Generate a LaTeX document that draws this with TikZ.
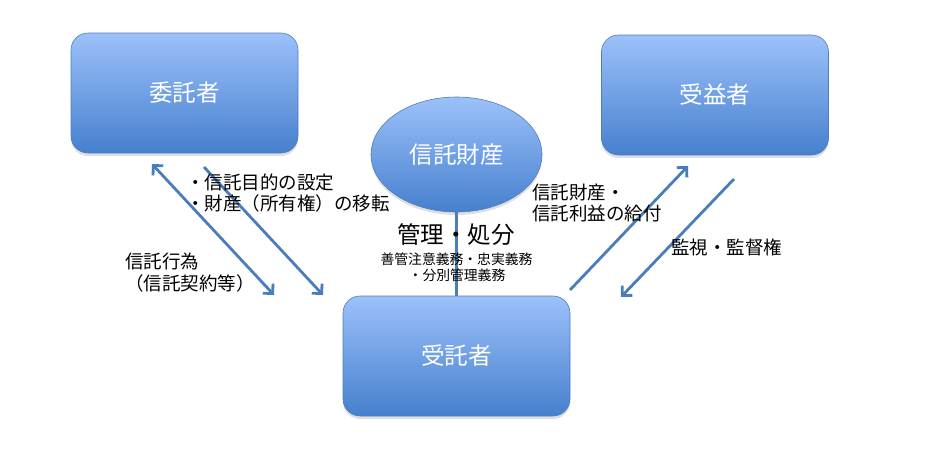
\documentclass[tikz,border=0pt]{standalone}
\usepackage{fontspec}
\setmainfont{Noto Sans CJK JP}
\usetikzlibrary{shapes.geometric,arrows.meta,shadows}
\definecolor{topblue}{RGB}{156,193,250}
\definecolor{botblue}{RGB}{70,128,206}
\definecolor{edgeblue}{RGB}{80,125,190}
\definecolor{arrowblue}{RGB}{74,126,187}
\tikzset{
  party/.style={rectangle, rounded corners=17pt, minimum width=227pt, minimum height=120pt,
    top color=topblue, bottom color=botblue, draw=edgeblue, line width=0.6pt,
    text=white, font=\fontsize{23.5}{26}\selectfont,
    drop shadow={opacity=0.25, shadow xshift=0pt, shadow yshift=-3pt}},
  estate/.style={ellipse, minimum width=171pt, minimum height=115pt, inner sep=0pt,
    top color=topblue, bottom color=botblue, draw=edgeblue, line width=0.6pt,
    text=white, font=\fontsize{23.5}{26}\selectfont,
    drop shadow={opacity=0.25, shadow xshift=0pt, shadow yshift=-3pt}},
  link/.style={draw=arrowblue, line width=2.8pt},
  tip/.style={-{Straight Barb[length=7pt,width=14pt]}},
  lbl/.style={font=\fontsize{18.5}{21}\selectfont, inner sep=0pt, anchor=west, text=black},
  small/.style={font=\fontsize{13.8}{16}\selectfont, inner sep=0pt, text=black},
}
\begin{document}
\begin{tikzpicture}[x=1pt,y=-1pt]
\useasboundingbox (0,0) rectangle (936,458);
% nodes
\node[party] (settlor) at (184.5,93) {\raisebox{2pt}{委託者}};
\node[party] (benef) at (715,95) {\raisebox{2pt}{受益者}};
\node[party] (trustee) at (456.5,356) {\raisebox{2pt}{受託者}};
\draw[link, line width=3pt] (456.5,200) -- (trustee.north);
\node[estate] (prop) at (456.5,154.5) {\raisebox{2pt}{信託財産}};
% free connector ends
\coordinate (a1s) at (152,164);
\coordinate (a1e) at (274,295);
\coordinate (a2s) at (204,167);
\coordinate (a2e) at (323,295);
\coordinate (a3s) at (570,290);
\coordinate (a3e) at (688,166);
\coordinate (a4s) at (734,179);
\coordinate (a4e) at (621,297);
\draw[link, {Straight Barb[length=7pt,width=14pt]}-{Straight Barb[length=7pt,width=14pt]}] (a1s) -- (a1e);
\draw[link, tip] (a2s) -- (a2e);
\draw[link, tip] (a3s) -- (a3e);
\draw[link, tip] (a4s) -- (a4e);
% labels
\node[lbl] (t1) at (186,182) {・信託目的の設定};
\node[lbl] (t2) at (186,203) {・財産（所有権）の移転};
\node[lbl] (t3) at (125,261) {信託行為};
\node[lbl] (t4) at (125,283) {（信託契約等）};
\node[font=\fontsize{23.5}{26}\selectfont, inner sep=0pt] (t5) at (456,235) {管理・処分};
\node[small] (t6) at (456.5,259) {善管注意義務・忠実義務};
\node[small] (t7) at (457,275) {・分別管理義務};
\node[lbl] (t8) at (532,192) {信託財産・};
\node[lbl] (t9) at (532,213) {信託利益の給付};
\node[lbl] (t10) at (671,247) {監視・監督権};
\end{tikzpicture}
\end{document}
